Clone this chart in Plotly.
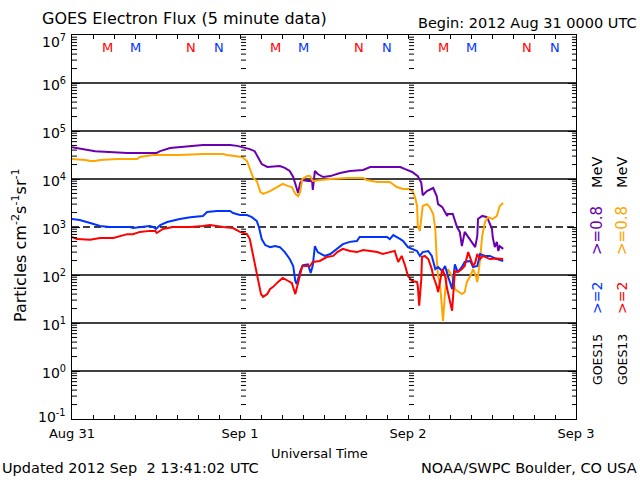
import math
import plotly.graph_objects as go

# ---------------- data (hours since 2012 Aug 31 00:00 UTC, flux) ----------------
g15_08_t = [0, 1.6, 3.3, 7.9, 12.1, 12.6, 14.0, 18.7, 22.6, 23.6, 24.4, 25.4, 26.1, 26.7, 27.1,
            27.9, 29.7, 30.4, 31.1, 31.6, 32.0, 32.3, 32.6, 32.9, 33.7, 34.3, 34.4, 34.7, 35.1, 35.9,
            36.9, 38.3, 39.7, 41.6, 42.6, 45.4, 46.9, 47.6, 48.6, 49.4, 49.9, 50.1, 50.7, 51.6, 52.1,
            52.3, 52.9, 53.6, 53.7, 54.4, 55.0, 55.4, 55.7, 56.1, 56.6, 57.1, 57.6, 57.9, 58.0, 58.6,
            59.3, 60.0, 60.1, 60.4, 60.7, 60.9, 61.1, 61.6]
g15_08_v = [4.6e4, 4.2e4, 3.8e4, 3.5e4, 3.5e4, 3.8e4, 4.4e4, 5.1e4, 5.1e4, 4.9e4, 4.6e4, 4.2e4, 3.8e4, 2.6e4, 2.05e4,
            1.78e4, 1.87e4, 1.7e4, 1.47e4, 1.1e4, 6.8e3, 5.1e3, 8.3e3, 9.5e3, 9.1e3, 9.1e3, 5.9e3, 1.47e4, 1.27e4, 1.1e4,
            1.15e4, 1.33e4, 1.47e4, 1.54e4, 1.78e4, 1.78e4, 1.78e4, 1.6e4, 1.4e4, 1.15e4, 8.3e3, 4.6e3, 5.6e3, 6.5e3, 4.4e3,
            3.0e3, 2.6e3, 1.7e3, 1.87e3, 1.87e3, 1.0e3, 7.9e2, 4.0e2, 7.9e2, 6.2e2, 4.9e2, 3.8e2, 6.5e2, 1.47e3, 1.7e3,
            1.6e3, 9.1e2, 6.2e2, 3.8e2, 4.9e2, 3.16e2, 4.0e2, 3.5e2]

g13_08_t = [0, 1.9, 2.6, 3.3, 4.0, 6.4, 9.3, 9.7, 11.6, 15.4, 18.7, 21.6, 22.1, 23.6, 24.3,
            25.0, 25.4, 25.9, 26.4, 26.9, 27.3, 28.3, 29.3, 30.1, 30.9, 31.4, 31.9, 32.3, 32.6, 32.9,
            33.6, 34.0, 34.4, 35.4, 36.9, 39.3, 41.6, 42.1, 43.6, 45.4, 46.4, 47.3, 48.3, 48.7, 49.0,
            49.3, 49.4, 49.7, 50.0, 50.1, 50.7, 51.1, 51.6, 51.9, 52.1, 52.3, 52.6, 52.9, 53.0, 53.3,
            53.7, 54.3, 54.7, 55.1, 55.7, 56.1, 56.4, 56.9, 57.3, 57.7, 57.9, 58.3, 58.6, 59.0, 59.4,
            60.1, 60.7, 61.1, 61.6]
g13_08_v = [2.6e4, 2.5e4, 2.37e4, 2.37e4, 2.5e4, 2.6e4, 2.6e4, 2.87e4, 3.16e4, 3.16e4, 3.3e4, 3.3e4, 3.16e4, 3.0e4, 2.87e4,
            2.37e4, 1.6e4, 1.05e4, 9.1e3, 5.4e3, 4.9e3, 5.6e3, 6.8e3, 7.9e3, 7.1e3, 6.8e3, 4.9e3, 4.4e3, 5.4e3, 1.0e4,
            1.15e4, 1.15e4, 9.1e3, 9.5e3, 1.0e4, 1.05e4, 1.05e4, 9.5e3, 8.7e3, 8.7e3, 6.8e3, 6.2e3, 6.2e3, 5.4e3, 4.2e3,
            2.74e3, 1.05e3, 8.3e2, 1.7e3, 2.74e3, 3.0e3, 2.6e3, 1.87e3, 9.1e2, 2.15e2, 95, 59, 12, 11, 44,
            133, 95, 51, 46, 40, 44, 71, 95, 133, 95, 71, 215, 650, 1270, 1600,
            1470, 1700, 2740, 3160]

g15_2_t = [0, 1.1, 2.6, 4.0, 5.4, 8.3, 8.7, 10.1, 11.1, 11.6, 12.0, 12.6, 13.6, 15.4, 16.9,
           18.7, 19.3, 20.7, 22.6, 23.0, 24.0, 25.0, 25.7, 26.4, 26.7, 27.1, 27.6, 28.3, 29.0, 29.7,
           30.4, 31.1, 31.6, 31.9, 32.1, 32.6, 33.0, 33.7, 34.1, 34.4, 34.7, 35.1, 36.1, 36.9, 37.9,
           38.7, 39.7, 40.7, 41.1, 42.6, 45.0, 45.4, 45.9, 46.9, 47.3, 48.0, 48.6, 49.3, 49.7, 50.1,
           50.9, 51.4, 51.9, 52.3, 52.9, 53.3, 53.7, 54.3, 54.7, 55.1, 55.7, 56.1, 56.9, 57.3, 57.9,
           58.3, 59.0, 59.7, 60.7, 61.6]
g15_2_v = [1.47e3, 1.4e3, 1.21e3, 1.05e3, 1.0e3, 1.0e3, 9.5e2, 1.0e3, 1.05e3, 1.0e3, 9.1e2, 1.1e3, 1.27e3, 1.47e3, 1.6e3,
           1.7e3, 2.05e3, 2.15e3, 2.15e3, 1.96e3, 1.78e3, 1.78e3, 1.6e3, 1.33e3, 1.0e3, 5.6e2, 4.2e2, 3.8e2, 4.0e2, 3.8e2,
           3.0e2, 2.15e2, 1.54e2, 75, 65, 121, 160, 167, 110, 160, 400, 300, 250, 274, 350,
           440, 490, 510, 620, 620, 620, 560, 680, 560, 510, 380, 350, 316, 250, 300,
           316, 250, 133, 147, 121, 154, 95, 51, 167, 115, 147, 187, 196, 147, 154,
           274, 250, 250, 215, 196]

g13_2_t = [0, 0.7, 2.6, 4.0, 5.9, 6.9, 7.9, 8.7, 9.7, 11.1, 11.9, 12.1, 13.0, 14.4, 16.9,
           18.7, 19.7, 21.6, 23.0, 24.0, 25.0, 25.4, 25.7, 26.0, 26.4, 26.7, 27.0, 27.3, 27.9, 28.3,
           28.7, 29.4, 30.1, 30.9, 31.4, 31.9, 32.1, 32.6, 32.9, 34.0, 34.4, 35.4, 36.4, 37.3, 37.9,
           38.7, 39.7, 40.7, 41.6, 43.6, 44.4, 45.4, 46.1, 46.6, 47.1, 47.6, 48.0, 48.6, 49.3, 49.4,
           49.6, 49.9, 50.0, 50.4, 50.9, 51.4, 51.6, 52.1, 52.3, 52.9, 53.3, 53.6, 54.0, 54.3, 54.7,
           55.1, 55.7, 56.1, 56.6, 56.9, 57.3, 57.6, 57.9, 58.3, 58.7, 59.7, 60.7, 61.6]
g13_2_v = [620, 560, 540, 590, 590, 650, 710, 710, 790, 830, 830, 750, 910, 1000, 1000,
           1050, 1100, 1000, 950, 790, 710, 560, 350, 187, 115, 65, 40, 35, 40, 51,
           56, 71, 87, 75, 68, 40, 54, 105, 154, 154, 187, 196, 237, 250, 300,
           350, 316, 300, 330, 300, 274, 300, 316, 187, 250, 154, 95, 75, 71, 59,
           23, 83, 237, 250, 215, 133, 95, 59, 44, 133, 95, 51, 29, 18, 121,
           115, 133, 154, 300, 215, 154, 180, 274, 215, 250, 215, 220, 215]

day_hours = [0, 24, 48, 72]
day_labels = ["Aug 31", "Sep 1", "Sep 2", "Sep 3"]
decades = [-1, 0, 1, 2, 3, 4, 5, 6, 7]
decade_labels = [f"10<sup>{k}</sup>" for k in decades]

# local midnight (M) / noon (N) markers, hours of day UTC
g13_mn = [(5, "M"), (17, "N")]
g15_mn = [(9, "M"), (21, "N")]

C_PURPLE = "#6A00B0"
C_ORANGE = "#FFA500"
C_BLUE = "#0033FF"
C_RED = "#FF0000"
FONT = "DejaVu Sans"

# ---------------- geometry helpers (pixel -> paper) ----------------
W, H = 640, 480
L, R, T, B = 72, 576, 35, 419


def px(x):
    return (x - L) / (R - L)


def py(y):
    return (B - y) / (B - T)


fig = go.Figure()
for t, v, c in [(g15_08_t, g15_08_v, C_PURPLE), (g13_08_t, g13_08_v, C_ORANGE),
                (g15_2_t, g15_2_v, C_BLUE), (g13_2_t, g13_2_v, C_RED)]:
    fig.add_trace(go.Scatter(x=t, y=v, mode="lines", line=dict(color=c, width=2),
                             hoverinfo="skip", showlegend=False))

# gridlines
ymin, ymax = decades[0], decades[-1]
shapes = []
for k in decades[1:-1]:
    yp = (k - ymin) / (ymax - ymin)
    shapes.append(dict(type="line", xref="paper", yref="paper", x0=0, x1=1, y0=yp, y1=yp,
                       line=dict(color="black", width=1.3, dash="7px,4px" if k == 3 else "solid"),
                       layer="below"))

# minor ticks: left axis, each day boundary, right axis
span = R - L
path = ""
for k in decades[:-1]:
    for m in range(2, 10):
        yp = (k + math.log10(m) - ymin) / (ymax - ymin)
        path += f"M0,{yp} L{5/span},{yp} "
        path += f"M{1 - 4/span},{yp} L1,{yp} "
        for d in day_hours[1:-1]:
            x0 = d / 72 + 1 / span
            path += f"M{x0},{yp} L{x0 + 5/span},{yp} "
shapes.append(dict(type="path", xref="paper", yref="paper", path=path,
                   line=dict(color="black", width=1)))

annotations = []
# y tick labels (kept inside the frame range at the two ends, like the original)
for k, lab in zip(decades, decade_labels):
    shift = -6 if k == decades[-1] else (3 if k == decades[0] else -1)
    annotations.append(dict(x=0, y=k, xref="paper", yref="y", text=lab, showarrow=False,
                            xanchor="right", yanchor="middle", xshift=-4, yshift=shift,
                            font=dict(family=FONT, size=14, color="black")))

# M / N markers
for d in day_hours[:-1]:
    for hh, lab in g13_mn:
        annotations.append(dict(x=d + hh, y=py(48), xref="x", yref="paper", text=lab, showarrow=False,
                                xanchor="center", yanchor="middle",
                                font=dict(family=FONT, size=13, color=C_RED)))
    for hh, lab in g15_mn:
        annotations.append(dict(x=d + hh, y=py(48), xref="x", yref="paper", text=lab, showarrow=False,
                                xanchor="center", yanchor="middle",
                                font=dict(family=FONT, size=13, color=C_BLUE)))


def txt(x, y, s, size=13, xa="center", color="black", angle=0):
    annotations.append(dict(x=px(x), y=py(y), xref="paper", yref="paper", text=s, showarrow=False,
                            xanchor=xa, yanchor="middle", textangle=angle,
                            font=dict(family=FONT, size=size, color=color)))


txt(40, 18, "GOES Electron Flux (5 minute data)", 16, "left")
txt(639, 23, "Begin: 2012 Aug 31 0000 UTC", 14.5, "right")
txt(319, 453, "Universal Time", 13)
txt(0, 468, "Updated 2012 Sep \u00a02 13:41:02 UTC", 14.5, "left")
txt(639, 468, "NOAA/SWPC Boulder, CO USA", 14.5, "right")
txt(19, 245, "Particles cm<sup>-2</sup>s<sup>-1</sup>sr<sup>-1</sup>", 16, angle=-90)

# right-side legend (rotated)
for xcol, sat, c2, c08 in [(597, "GOES15", C_BLUE, C_PURPLE), (622, "GOES13", C_RED, C_ORANGE)]:
    txt(xcol, 360, sat, 12.5, angle=-90)
    txt(xcol, 298, "&gt;=2", 14, color=c2, angle=-90)
    txt(xcol, 231, "&gt;=0.8", 15, color=c08, angle=-90)
    txt(xcol, 173, "MeV", 14.5, angle=-90)

fig.update_layout(
    width=W, height=H, margin=dict(l=L, r=W - R, t=T, b=H - B, pad=0),
    paper_bgcolor="white", plot_bgcolor="white",
    shapes=shapes, annotations=annotations, hovermode=False,
    xaxis=dict(range=[0, 72], tickvals=day_hours, ticktext=day_labels,
               ticks="inside", ticklen=4, tickcolor="black", showline=True, linecolor="black",
               minor=dict(ticks="inside", dtick=3, tick0=0, ticklen=4, tickcolor="black"),
               linewidth=1, mirror="ticks", showgrid=False, zeroline=False, ticklabelstandoff=2,
               tickfont=dict(family=FONT, size=13, color="black")),
    yaxis=dict(type="log", range=[ymin, ymax], tickvals=[10.0 ** k for k in decades],
               showticklabels=False,
               ticks="inside", ticklen=8, tickcolor="black", showline=True, linecolor="black",
               linewidth=1, mirror="ticks", showgrid=False, zeroline=False),
)

fig.write_html("out.html", config={"displayModeBar": False},
               post_script="document.body.style.margin='0';document.body.style.overflow='hidden';")
